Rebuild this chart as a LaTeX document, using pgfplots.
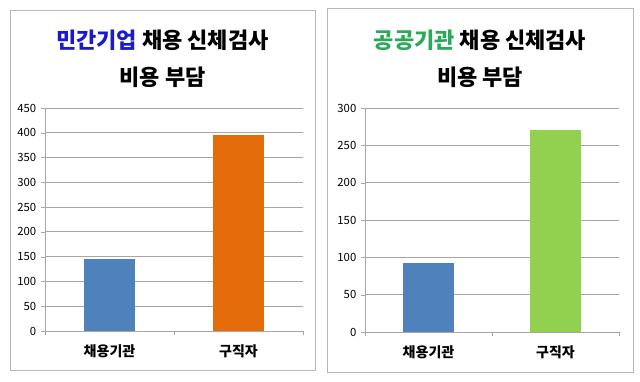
\documentclass[border=0pt]{standalone}
\usepackage{pgfplots}
\pgfplotsset{compat=1.18}
\usepackage{fontspec}
\setmainfont{Noto Sans CJK KR}
\definecolor{barblue}{HTML}{4F81BD}
\definecolor{barorange}{HTML}{E46C0A}
\definecolor{bargreen}{HTML}{92D050}
\definecolor{titleblue}{HTML}{1A1ACC}
\definecolor{titlegreen}{HTML}{2CA85A}
\definecolor{gridgray}{HTML}{A6A6A6}
\definecolor{framegray}{HTML}{B8B8B8}
\begin{document}
\begin{tikzpicture}[x=0.75pt,y=0.75pt]
\fill[white] (0,0) rectangle (640,382);
\draw[framegray, line width=0.7pt] (10,12) rectangle (315,372);
\draw[framegray, line width=0.7pt] (327,10) rectangle (633,374);
\node[font=\bfseries\fontsize{16.5}{19}\selectfont] at (162.5,342) {\textcolor{titleblue}{민간기업} 채용 신체검사};
\node[font=\bfseries\fontsize{16.5}{19}\selectfont] at (162.5,305) {비용 부담};
\node[font=\bfseries\fontsize{16.5}{19}\selectfont] at (480,342) {\textcolor{titlegreen}{공공기관} 채용 신체검사};
\node[font=\bfseries\fontsize{16.5}{19}\selectfont] at (480,305) {비용 부담};
\pgfplotsset{
  mybar/.style={
    scale only axis,
    anchor=south west,
    ybar, bar width=38.25pt, bar shift=0pt,
    xmin=-0.5, xmax=1.5, ymin=0,
    xtick={-0.5,0.5,1.5}, xticklabels={},
    extra x ticks={0,1}, extra x tick labels={채용기관,구직자},
    extra x tick style={major tick length=0pt, grid=none},
    x tick label style={font=\bfseries\fontsize{10.5}{12}\selectfont, yshift=-6.5pt},
    xtick style={gridgray},
    y tick label style={font=\fontsize{8.5}{10}\selectfont},
    /pgf/number format/assume math mode=true,
    ymajorgrids, grid style={gridgray, line width=0.6pt},
    axis x line*=bottom, axis y line*=left,
    axis line style={gridgray, line width=0.6pt},
    ytick style={gridgray}, major tick length=3pt,
    y axis line style={-}, x axis line style={-},
    tick align=outside,
    clip=false,
  }
}
\begin{axis}[mybar, at={(45pt*0.75,51pt*0.75)}, width=193.5pt, height=167.25pt,
  ymax=450, ytick={0,50,...,450}]
\addplot[fill=barblue, draw=none] coordinates {(0,145)};
\addplot[fill=barorange, draw=none] coordinates {(1,395)};
\end{axis}
\begin{axis}[mybar, at={(365pt*0.75,50pt*0.75)}, width=190.5pt, height=168pt,
  ymax=300, ytick={0,50,...,300}]
\addplot[fill=barblue, draw=none] coordinates {(0,92)};
\addplot[fill=bargreen, draw=none] coordinates {(1,270)};
\end{axis}
\end{tikzpicture}
\end{document}
